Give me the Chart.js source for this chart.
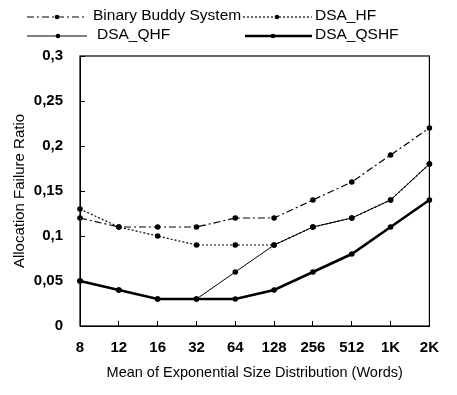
<!DOCTYPE html>
<html>
<head>
<meta charset="utf-8">
<script src="https://cdn.jsdelivr.net/npm/chart.js@4/dist/chart.umd.min.js"></script>
<style>
  body { margin: 0; background: #fff; }
  #wrap { width: 457px; height: 395px; position: relative; }
</style>
</head>
<body>
<div id="wrap"><canvas id="chart"></canvas></div>
<script>
/* Allocation failure ratio chart */

const categories = ['8', '12', '16', '32', '64', '128', '256', '512', '1K', '2K'];
const yTickLabels = ['0', '0,05', '0,1', '0,15', '0,2', '0,25', '0,3'];

const binaryBuddy = [0.12, 0.11, 0.11, 0.11, 0.12, 0.12, 0.14, 0.16, 0.19, 0.22];
const dsaHF       = [0.13, 0.11, 0.10, 0.09, 0.09, 0.09, 0.11, 0.12, 0.14, 0.18];
const dsaQHF      = [0.05, 0.04, 0.03, 0.03, 0.06, 0.09, 0.11, 0.12, 0.14, 0.18];
const dsaQSHF     = [0.05, 0.04, 0.03, 0.03, 0.03, 0.04, 0.06, 0.08, 0.11, 0.14];

const FONT = 'Arial, "Liberation Sans", sans-serif';

// legend slots: marker line from x0 to x1, dot at dx, text at tx
const legendSlots = [
  { x0: 27, x1: 87, dx: 57, tx: 93, y: 16 },
  { x0: 243, x1: 312, dx: 277, tx: 315, y: 16 },
  { x0: 27, x1: 87, dx: 58, tx: 97, y: 35 },
  { x0: 245, x1: 312, dx: 273, tx: 315, y: 35 }
];

const legendAndFrame = {
  id: 'legendAndFrame',
  afterDraw: function(chart) {
    const ctx = chart.ctx;
    const area = chart.chartArea;
    ctx.save();
    // box around the plot
    ctx.strokeStyle = '#000';
    ctx.lineWidth = 1.2;
    ctx.setLineDash([]);
    ctx.strokeRect(area.left, area.top, area.right - area.left, area.bottom - area.top);

    // legend
    chart.data.datasets.forEach(function(ds, i) {
      const s = legendSlots[i];
      ctx.strokeStyle = '#000';
      ctx.lineWidth = ds.borderWidth;
      ctx.setLineDash(ds.borderDash || []);
      ctx.beginPath();
      ctx.moveTo(s.x0, s.y + 1);
      ctx.lineTo(s.x1, s.y + 1);
      ctx.stroke();
      ctx.setLineDash([]);
      ctx.fillStyle = '#000';
      ctx.beginPath();
      ctx.arc(s.dx, s.y + 1, 2.3, 0, Math.PI * 2);
      ctx.fill();
      ctx.font = '15.5px ' + FONT;
      ctx.textBaseline = 'middle';
      ctx.textAlign = 'left';
      ctx.fillText(ds.label, s.tx, s.y);
    });
    ctx.restore();
  }
};

function series(label, data, width, dash) {
  return {
    label: label,
    data: data,
    borderColor: '#000',
    backgroundColor: '#000',
    borderWidth: width,
    borderDash: dash,
    pointRadius: 2.8,
    pointBorderWidth: 0,
    pointBackgroundColor: '#000',
    tension: 0,
    fill: false
  };
}

new Chart(document.getElementById('chart'), {
  type: 'line',
  data: {
    labels: categories,
    datasets: [
      series('Binary Buddy System', binaryBuddy, 1.2, [7, 3, 2, 3]),
      series('DSA_HF', dsaHF, 1.2, [2, 2]),
      series('DSA_QHF', dsaQHF, 1, []),
      series('DSA_QSHF', dsaQSHF, 2.6, [])
    ]
  },
  options: {
    responsive: true,
    maintainAspectRatio: false,
    animation: false,
    layout: { padding: { top: 56, left: 0, right: 11, bottom: 0 } },
    plugins: {
      legend: { display: false },
      tooltip: { enabled: false }
    },
    scales: {
      x: {
        type: 'category',
        offset: false,
        afterFit: function(scale) { scale.height = 69; },
        grid: { drawOnChartArea: false, drawTicks: true, tickLength: -5, color: '#000' },
        border: { color: '#000', width: 1 },
        ticks: { color: '#000', padding: 18, maxRotation: 0, autoSkip: false,
                 font: { family: FONT, size: 15, weight: 'bold' } },
        title: { display: true, text: 'Mean of Exponential Size Distribution (Words)', color: '#000',
                 padding: { top: 0, bottom: 13 }, font: { family: FONT, size: 14.5 } }
      },
      y: {
        min: 0,
        max: 0.3,
        afterFit: function(scale) { scale.width = 80; },
        grid: { drawOnChartArea: false, drawTicks: true, tickLength: -5, color: '#000' },
        border: { color: '#000', width: 1 },
        ticks: {
          stepSize: 0.05,
          color: '#000',
          padding: 22,
          font: { family: FONT, size: 15, weight: 'bold' },
          callback: function(value, index) { return yTickLabels[index]; }
        },
        title: { display: true, text: 'Allocation Failure Ratio', color: '#000',
                 padding: { top: 11, bottom: 0 }, font: { family: FONT, size: 15 } }
      }
    }
  },
  plugins: [legendAndFrame]
});
</script>
</body>
</html>
